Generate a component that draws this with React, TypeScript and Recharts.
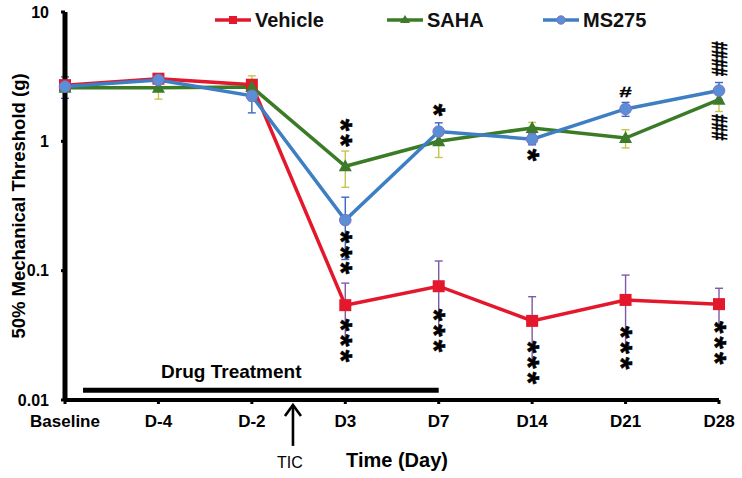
import React from 'react';
import { ComposedChart, Line, XAxis, YAxis, ErrorBar, ReferenceLine, ReferenceDot } from 'recharts';

const FONT = "'Liberation Sans', Arial, sans-serif";

const days = ['Baseline', 'D-4', 'D-2', 'D3', 'D7', 'D14', 'D21', 'D28'];
const vehicle = [2.72, 3.05, 2.74, 0.0541, 0.0758, 0.0409, 0.0594, 0.0551];
const vehicleErr = [0.1, 0.12, 0.1, 0.026, 0.043, 0.022, 0.033, 0.018];
const saha = [2.6, 2.6, 2.63, 0.641, 1.0, 1.27, 1.06, 2.1];
const sahaErr = [0.15, 0.48, 0.58, 0.2, 0.25, 0.13, 0.17, 0.4];
const ms275 = [2.65, 2.98, 2.25, 0.246, 1.19, 1.04, 1.78, 2.47];
const ms275Err = [0.5, 0.15, 0.59, 0.124, 0.2, 0.1, 0.22, 0.38];
const yTicks = [0.01, 0.1, 1, 10];

// significance marks: category, value of the top glyph, stacked glyphs
const asteriskStacks = [
  { day: 'D3', value: 1.336, text: '**' },
  { day: 'D3', value: 0.182, text: '***' },
  { day: 'D3', value: 0.038, text: '***' },
  { day: 'D7', value: 1.746, text: '*' },
  { day: 'D7', value: 0.0454, text: '***' },
  { day: 'D14', value: 0.783, text: '*' },
  { day: 'D14', value: 0.0257, text: '***' },
  { day: 'D21', value: 0.0335, text: '***' },
  { day: 'D28', value: 0.0366, text: '***' },
];
const hashSingles = [{ day: 'D21', value: 2.45, text: '#' }];
const hashStacks = [
  { day: 'D28', value: 5.47, text: '####' },
  { day: 'D28', value: 1.496, text: '###' },
];

// drug treatment period on a positional axis (0 = Baseline ... 7 = D28)
const drugStart = 0.193;
const drugEnd = 4.0;
const drugLevel = 0.0119;
const drugLabel = { x: 1.78, value: 0.0166, text: 'Drug Treatment' };
const ticMark = { x: 2.44, value: 0.00933, text: 'TIC' };

const chartData = days.map((day, i) => ({
  day,
  vehicle: vehicle[i],
  vehicleErr: [vehicleErr[i], vehicleErr[i]],
  saha: saha[i],
  sahaErr: [sahaErr[i], sahaErr[i]],
  ms275: ms275[i],
  ms275Err: [ms275Err[i], ms275Err[i]],
}));

const RED = '#e3182c';
const GREEN = '#3b7b25';
const BLUE = '#3e7ec3';

const SquareDot = (p: any) =>
  p.cx == null ? <g key={`s${p.index}`} /> : (
    <rect key={`s${p.index}`} x={p.cx - 6} y={p.cy - 6} width={12} height={12} fill={RED} />
  );
const TriDot = (p: any) =>
  p.cx == null ? <g key={`t${p.index}`} /> : (
    <polygon key={`t${p.index}`} points={`${p.cx},${p.cy - 7} ${p.cx - 6.5},${p.cy + 5} ${p.cx + 6.5},${p.cy + 5}`} fill="#3d7a2b" />
  );
const CircDot = (p: any) =>
  p.cx == null ? <g key={`c${p.index}`} /> : (
    <circle key={`c${p.index}`} cx={p.cx} cy={p.cy} r={5.8} fill="#5b8fd5" stroke="#7c72c4" strokeWidth={1} />
  );

// vertical stack of asterisks drawn as one rotated text run
const AST_FS = 32;
const AST_ADV = 0.389 * AST_FS;
const makeAsterisks = (text: string) => (p: any) => (
  <g transform={`translate(${p.cx} ${p.cy}) rotate(90)`}>
    <text x={-AST_ADV / 2} y={0.48 * AST_FS} fontSize={AST_FS} fontWeight="bold" fontFamily={FONT}
      fill="#000" stroke="#000" strokeWidth={0.5} letterSpacing={15.5 - AST_ADV}>{text}</text>
  </g>
);
const makeHash = (text: string) => (p: any) => (
  <g transform={`translate(${p.cx} ${p.cy}) scale(1.25 0.85)`}>
    <text x={0} y={6.5} textAnchor="middle" fontSize={18} fontWeight="bold" fontFamily={FONT} fill="#000" stroke="#000" strokeWidth={0.3}>{text}</text>
  </g>
);
const HASH_FS = 16;
const HASH_ADV = 0.556 * HASH_FS;
const makeHashStack = (text: string) => (p: any) => (
  <g transform={`translate(${p.cx} ${p.cy}) scale(1.35 1) rotate(90)`}>
    <text x={-HASH_ADV / 2} y={0.34 * HASH_FS} fontSize={HASH_FS} fontWeight="bold" fontFamily={FONT}
      fill="#000" stroke="#000" strokeWidth={0.4} letterSpacing={8.6 - HASH_ADV}>{text}</text>
  </g>
);
const DrugText = (p: any) => (
  <text x={p.cx} y={p.cy + 6.5} textAnchor="middle" fontSize={19} fontWeight="bold" fontFamily={FONT} fill="#000">{drugLabel.text}</text>
);
const TicArrow = (p: any) => (
  <g>
    <line x1={p.cx} y1={p.cy + 1} x2={p.cx} y2={p.cy + 42} stroke="#000" strokeWidth={2.6} />
    <polyline points={`${p.cx - 8},${p.cy + 12} ${p.cx},${p.cy + 1} ${p.cx + 8},${p.cy + 12}`} fill="none" stroke="#000" strokeWidth={2.6} />
    <text x={p.cx - 3} y={p.cy + 64} textAnchor="middle" fontSize={16} fontFamily={FONT} fill="#000">{ticMark.text}</text>
  </g>
);

const legendItems = [
  { name: 'Vehicle', color: RED, x: 215, shape: 'square' },
  { name: 'SAHA', color: GREEN, x: 387, shape: 'tri' },
  { name: 'MS275', color: BLUE, x: 543, shape: 'circle' },
];

function Legend() {
  return (
    <svg width={742} height={40} style={{ position: 'absolute', left: 0, top: 0, pointerEvents: 'none' }}>
      {legendItems.map((it) => {
        const cx = it.x + 18;
        return (
          <g key={it.name}>
            <line x1={it.x} y1={20} x2={it.x + 36} y2={20} stroke={it.color} strokeWidth={3.5} />
            {it.shape === 'square' && <rect x={cx - 4} y={16} width={8} height={8} fill={RED} />}
            {it.shape === 'tri' && <polygon points={`${cx},${15} ${cx - 5},${23} ${cx + 5},${23}`} fill="#3d7a2b" />}
            {it.shape === 'circle' && <circle cx={cx} cy={20} r={4.2} fill="#5b8fd5" stroke="#7c72c4" strokeWidth={1} />}
            <text x={it.x + 40} y={27} fontSize={20} fontWeight="bold" fontFamily={FONT} fill="#111">{it.name}</text>
          </g>
        );
      })}
    </svg>
  );
}

export default function App() {
  return (
    <div style={{ position: 'absolute', left: 0, top: 0, width: 742, height: 478, background: '#fff' }}>
      <ComposedChart width={742} height={478} data={chartData} margin={{ top: 12, right: 23, bottom: 8, left: 15 }}>
        <XAxis
          dataKey="day"
          scale="point"
          padding={{ left: 0, right: 0 }}
          interval={0}
          height={70}
          axisLine={{ stroke: '#000', strokeWidth: 4 }}
          tickLine={{ stroke: '#000', strokeWidth: 3 }}
          tickSize={4}
          tickMargin={11}
          tick={{ fill: '#000', fontSize: 17, fontWeight: 'bold', fontFamily: FONT }}
          label={{ value: 'Time (Day)', position: 'insideBottom', offset: 3, dx: 5, style: { fill: '#000', fontSize: 20, fontWeight: 'bold', fontFamily: FONT } }}
        />
        <XAxis xAxisId="pos" type="number" domain={[0, 7]} hide allowDataOverflow />
        <YAxis
          scale="log"
          type="number"
          domain={[0.01, 10]}
          ticks={yTicks}
          allowDataOverflow
          width={50}
          axisLine={{ stroke: '#000', strokeWidth: 5 }}
          tickLine={{ stroke: '#000', strokeWidth: 3 }}
          tickSize={4}
          tickMargin={12}
          tickFormatter={(v: number) => String(v)}
          tick={{ fill: '#000', fontSize: 16, fontWeight: 'bold', fontFamily: FONT }}
          label={{ value: '50% Mechanical Threshold (g)', angle: -90, position: 'insideLeft', offset: 3, style: { textAnchor: 'middle', fill: '#000', fontSize: 18.5, fontWeight: 'bold', fontFamily: FONT } }}
        />
        <ReferenceLine
          xAxisId="pos"
          segment={[{ x: drugStart, y: drugLevel }, { x: drugEnd, y: drugLevel }]}
          stroke="#000"
          strokeWidth={5}
          ifOverflow="visible"
        />
        <ReferenceDot xAxisId="pos" x={drugLabel.x} y={drugLabel.value} ifOverflow="visible" shape={DrugText} />
        <ReferenceDot xAxisId="pos" x={ticMark.x} y={ticMark.value} ifOverflow="visible" shape={TicArrow} />
        <Line dataKey="vehicle" stroke={RED} strokeWidth={3.5} dot={SquareDot} activeDot={false} isAnimationActive={false}>
          <ErrorBar dataKey="vehicleErr" stroke="#7c5aa6" strokeWidth={1.4} width={4} isAnimationActive={false} />
        </Line>
        <Line dataKey="saha" stroke={GREEN} strokeWidth={3.5} dot={TriDot} activeDot={false} isAnimationActive={false}>
          <ErrorBar dataKey="sahaErr" stroke="#c6c54c" strokeWidth={1.4} width={4} isAnimationActive={false} />
        </Line>
        <Line dataKey="ms275" stroke={BLUE} strokeWidth={3.5} dot={CircDot} activeDot={false} isAnimationActive={false}>
          <ErrorBar dataKey="ms275Err" stroke="#3867c4" strokeWidth={1.4} width={4} isAnimationActive={false} />
        </Line>
        {asteriskStacks.map((m, i) => (
          <ReferenceDot key={`a${i}`} x={m.day} y={m.value} ifOverflow="visible" shape={makeAsterisks(m.text)} />
        ))}
        {hashSingles.map((m, i) => (
          <ReferenceDot key={`h${i}`} x={m.day} y={m.value} ifOverflow="visible" shape={makeHash(m.text)} />
        ))}
        {hashStacks.map((m, i) => (
          <ReferenceDot key={`sh${i}`} x={m.day} y={m.value} ifOverflow="visible" shape={makeHashStack(m.text)} />
        ))}
      </ComposedChart>
      <Legend />
    </div>
  );
}
